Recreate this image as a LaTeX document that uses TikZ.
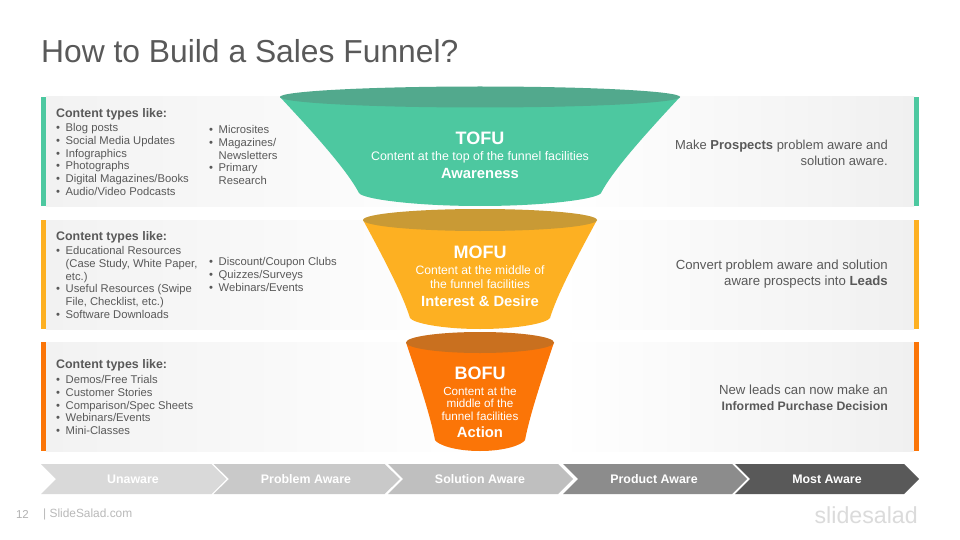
\documentclass[tikz,border=0pt]{standalone}
\usepackage{fontspec}
\setmainfont{Liberation Sans}
\usetikzlibrary{calc}
\definecolor{txt}{HTML}{595959}
\definecolor{tealc}{HTML}{4DC8A0}
\definecolor{teald}{HTML}{52A98D}
\definecolor{ambc}{HTML}{FDB022}
\definecolor{ambd}{HTML}{C99A35}
\definecolor{orac}{HTML}{FB7507}
\definecolor{orad}{HTML}{C9701F}
\definecolor{bandl}{HTML}{F2F2F2}
\definecolor{bandr}{HTML}{F0F0F0}
\definecolor{chA}{HTML}{D9D9D9}
\definecolor{chB}{HTML}{C9C9C9}
\definecolor{chC}{HTML}{BFBFBF}
\definecolor{chD}{HTML}{8C8C8C}
\newcommand{\bl}{\makebox[9.5pt][l]{\textbullet}}
\newcommand{\nb}{\hspace*{9.5pt}}
\newcommand{\bandrow}[2]{%
  \shade[left color=bandl,right color=white] (46,#1) rectangle (480,#1+109);
  \shade[left color=white,right color=bandr] (560,#1) rectangle (914,#1+109);
  \fill[#2] (41,#1) rectangle (46,#1+109);
  \fill[#2] (914,#1) rectangle (919,#1+109);
}
% cx cy rx ry bx by bottom body lid
\newcommand{\funnelshape}[9]{%
  \fill[#8] ({#1-#3},#2)
    .. controls ({#1-#3+0.50*(#3-#5)},{#2+0.44*(#6-#2)}) and ({#1-#3+0.86*(#3-#5)},{#2+0.78*(#6-#2)}) .. ({#1-#5},#6)
    .. controls ({#1-#5+3},{#6+(#7-#6)*0.45}) and ({#1-#5*0.55},#7) .. (#1,#7)
    .. controls ({#1+#5*0.55},#7) and ({#1+#5-3},{#6+(#7-#6)*0.45}) .. ({#1+#5},#6)
    .. controls ({#1+#3-0.86*(#3-#5)},{#2+0.78*(#6-#2)}) and ({#1+#3-0.50*(#3-#5)},{#2+0.44*(#6-#2)}) .. ({#1+#3},#2) -- cycle;
  \fill[#9] (#1,#2) ellipse [x radius=#3, y radius=#4];
}
\newcommand{\chev}[5]{%
  \fill[#5] (#1,464) -- (#2,464) -- (#3,479) -- (#2,494) -- (#1,494) -- (#4,479) -- cycle;
}
\tikzset{
  x=1pt,y=-1pt,
  listtext/.style={anchor=north west,inner sep=0pt,align=left,text=txt,font=\fontsize{11.25}{12.85}\selectfont},
  headtext/.style={anchor=west,inner sep=0pt,text=txt,font=\fontsize{12.4}{14}\selectfont\bfseries},
  righttext/.style={anchor=east,inner sep=0pt,align=right,text=txt,font=\fontsize{#1}{16}\selectfont},
  fbig/.style={inner sep=0pt,text=white,font=\fontsize{18}{20}\selectfont\bfseries},
  fmid/.style 2 args={inner sep=0pt,text=white,align=center,font=\fontsize{#1}{#2}\selectfont},
  fbold/.style={inner sep=0pt,text=white,font=\fontsize{14.8}{16}\selectfont\bfseries},
  chevtext/.style={inner sep=0pt,text=white,font=\fontsize{12.4}{13}\selectfont\bfseries},
}
\begin{document}
\begin{tikzpicture}
\useasboundingbox (0,0) rectangle (960,540);
\fill[white] (0,0) rectangle (960,540);
\node[anchor=base west,inner sep=0pt,text=txt,font=\fontsize{31.8}{34}\selectfont] (title) at (41,63) {How to Build a Sales Funnel?};

\bandrow{97}{tealc}
\bandrow{220}{ambc}
\bandrow{342}{orac}

\funnelshape{480}{97}{200}{10.5}{121}{193}{206}{tealc}{teald}
\funnelshape{480}{220}{117}{11}{70}{318}{329}{ambc}{ambd}
\funnelshape{480}{342.5}{74}{10.5}{45}{440}{451}{orac}{orad}

% left lists
\node[headtext] (h1) at (56,114) {Content types like:};
\node[listtext] (l1) at (56,123) {\bl Blog posts\\\bl Social Media Updates\\\bl Infographics\\\bl Photographs\\\bl Digital Magazines/Books\\\bl Audio/Video Podcasts};
\node[listtext] (r1) at (209,125) {\bl Microsites\\\bl Magazines/\\\nb Newsletters\\\bl Primary\\\nb Research};
\node[headtext] (h2) at (56,237) {Content types like:};
\node[listtext] (l2) at (56,246) {\bl Educational Resources\\\nb (Case Study, White Paper,\\\nb etc.)\\\bl Useful Resources (Swipe\\\nb File, Checklist, etc.)\\\bl Software Downloads};
\node[listtext] (r2) at (209,257) {\bl Discount/Coupon Clubs\\\bl Quizzes/Surveys\\\bl Webinars/Events};
\node[headtext] (h3) at (56,365) {Content types like:};
\node[listtext] (l3) at (56,375) {\bl Demos/Free Trials\\\bl Customer Stories\\\bl Comparison/Spec Sheets\\\bl Webinars/Events\\\bl Mini-Classes};

% funnel labels
\node[fbig] (tofu) at (480,138) {TOFU};
\node[fmid={12.4}{14}] (tofuc) at (480,157) {Content at the top of the funnel facilities};
\node[fbold] (tofub) at (480,173) {Awareness};
\node[fbig] (mofu) at (480,252) {MOFU};
\node[fmid={12.15}{14}] (mofuc) at (480,277) {Content at the middle of\\the funnel facilities};
\node[fbold] (mofub) at (480,301) {Interest \& Desire};
\node[fbig] (bofu) at (480,373) {BOFU};
\node[fmid={11.7}{12.5}] (bofuc) at (480,403.5) {Content at the\\middle of the\\funnel facilities};
\node[fbold] (bofub) at (480,432) {Action};

% right text
\node[righttext=12.97] (t1) at (888,153) {Make \textbf{Prospects} problem aware and\\solution aware.};
\node[righttext=13.2] (t2) at (888,274) {Convert problem aware and solution\\aware prospects into \textbf{Leads}};
\node[righttext=13.2] (t3) at (888,397.5) {New leads can now make an\\\fontsize{12.3}{16}\selectfont\textbf{Informed Purchase Decision}};

% chevrons
\chev{41}{211.5}{226.5}{56}{chA}
\chev{213.5}{384.5}{400}{229}{chB}
\chev{388}{558}{573}{403}{chC}
\chev{563}{732}{747}{578}{chD}
\chev{735}{904}{919}{750}{txt}
\node[chevtext] (c1) at (133,479.5) {Unaware};
\node[chevtext] (c2) at (306,479.5) {Problem Aware};
\node[chevtext] (c3) at (480,479.5) {Solution Aware};
\node[chevtext] (c4) at (654,479.5) {Product Aware};
\node[chevtext] (c5) at (827,479.5) {Most Aware};

% footer
\node[inner sep=0pt,text=gray!60!white,font=\fontsize{11.5}{13}\selectfont] (pg) at (22.5,514) {12};
\node[anchor=west,inner sep=0pt,text=gray!55!white,font=\fontsize{11.9}{13}\selectfont] (site) at (43,514) {| SlideSalad.com};
\node[anchor=east,inner sep=0pt,text=gray!28!white,font=\fontsize{23.2}{25}\selectfont] (logo) at (918,515) {slidesalad};
\end{tikzpicture}
\end{document}
